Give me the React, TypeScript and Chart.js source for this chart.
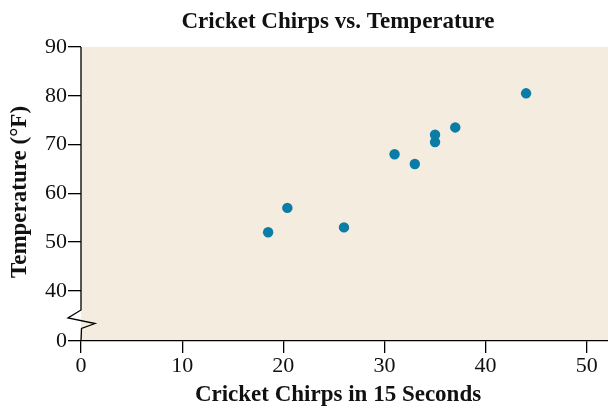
import React, { useEffect, useRef } from "react";
import { Chart, registerables } from "chart.js";

Chart.register(...registerables);

const chirps: number[] = [44, 35, 20.4, 33, 31, 35, 18.5, 37, 26];
const temperatures: number[] = [80.5, 70.5, 57, 66, 68, 72, 52, 73.5, 53];
const xTickValues: number[] = [0, 10, 20, 30, 40, 50];
const yTickValues: number[] = [40, 50, 60, 70, 80, 90];
const yBreakBase = 29.7; // position that carries the "0" label below the axis break
const chartTitle = "Cricket Chirps vs. Temperature";
const xTitle = "Cricket Chirps in 15 Seconds";
const yTitle = "Temperature (°F)";

const SERIF = "'Liberation Serif', 'DejaVu Serif', serif";
const BG = "#f3ecdf";
const DOT = "#0a7ca6";

const decorPlugin = {
  id: "decor",
  beforeDraw(chart: any) {
    const { ctx, chartArea } = chart;
    ctx.save();
    ctx.fillStyle = "#ffffff";
    ctx.fillRect(0, 0, chart.width, chart.height);
    ctx.fillStyle = BG;
    ctx.fillRect(chartArea.left, chartArea.top, chartArea.right - chartArea.left, chartArea.bottom - chartArea.top);
    ctx.restore();
  },
  afterDraw(chart: any) {
    const { ctx, chartArea } = chart;
    const L = chartArea.left;
    const B = chartArea.bottom;
    ctx.save();
    // y axis with break
    ctx.strokeStyle = "#000";
    ctx.lineWidth = 1.3;
    ctx.beginPath();
    ctx.moveTo(L, chartArea.top);
    ctx.lineTo(L, B - 31);
    ctx.lineTo(L - 13, B - 23);
    ctx.lineTo(L + 14, B - 17.5);
    ctx.lineTo(L + 0.5, B - 12.5);
    ctx.lineTo(L, B);
    ctx.stroke();
    // titles
    ctx.fillStyle = "#111";
    ctx.textAlign = "center";
    ctx.textBaseline = "middle";
    ctx.font = "bold 23px " + SERIF;
    ctx.fillText(chartTitle, 338, 22);
    ctx.fillText(xTitle, 338, 395);
    ctx.translate(20, 192);
    ctx.rotate(-Math.PI / 2);
    ctx.fillText(yTitle, 0, 0);
    ctx.restore();
  },
};

export default function App() {
  const ref = useRef<HTMLCanvasElement | null>(null);
  useEffect(() => {
    document.body.style.margin = "0";
    const canvas = ref.current;
    if (!canvas) return;
    const points = chirps.map((c, i) => ({ x: c, y: temperatures[i] }));
    const chart = new Chart(canvas, {
      type: "scatter",
      data: {
        datasets: [
          {
            data: points,
            backgroundColor: DOT,
            borderWidth: 0,
            pointRadius: 5.2,
            pointHoverRadius: 5.2,
          },
        ],
      },
      options: {
        responsive: false,
        animation: false,
        events: [],
        layout: { autoPadding: false, padding: { top: 47, right: 0, left: 0, bottom: 0 } },
        plugins: {
          legend: { display: false },
          title: { display: false },
          tooltip: { enabled: false },
        },
        scales: {
          x: {
            type: "linear",
            min: 0,
            max: 52.1,
            afterBuildTicks: (scale: any) => {
              scale.ticks = xTickValues.map((v) => ({ value: v }));
            },
            afterFit: (scale: any) => {
              scale.height = 68;
            },
            border: { display: true, color: "#000", width: 1.3 },
            grid: { display: true, drawOnChartArea: false, drawTicks: true, tickLength: 12, color: "#000", lineWidth: 1.3 },
            ticks: {
              color: "#111",
              font: { family: SERIF, size: 22 },
              padding: 0,
              maxRotation: 0,
              callback: (v: any) => String(v),
            },
          },
          y: {
            type: "linear",
            min: yBreakBase,
            max: 90,
            afterBuildTicks: (scale: any) => {
              scale.ticks = [yBreakBase, ...yTickValues].map((v) => ({ value: v }));
            },
            afterFit: (scale: any) => {
              scale.width = 81;
            },
            border: { display: false },
            grid: { display: true, drawOnChartArea: false, drawTicks: true, tickLength: 13, color: "#000", lineWidth: 1.3 },
            ticks: {
              color: "#111",
              font: { family: SERIF, size: 22 },
              padding: 1,
              callback: (v: any) => (Number(v) < 40 ? "0" : String(v)),
            },
          },
        },
      },
      plugins: [decorPlugin],
    });
    return () => chart.destroy();
  }, []);
  return (
    <div style={{ width: 608, height: 409 }}>
      <canvas ref={ref} width={608} height={409} style={{ display: "block", width: 608, height: 409 }} />
    </div>
  );
}
